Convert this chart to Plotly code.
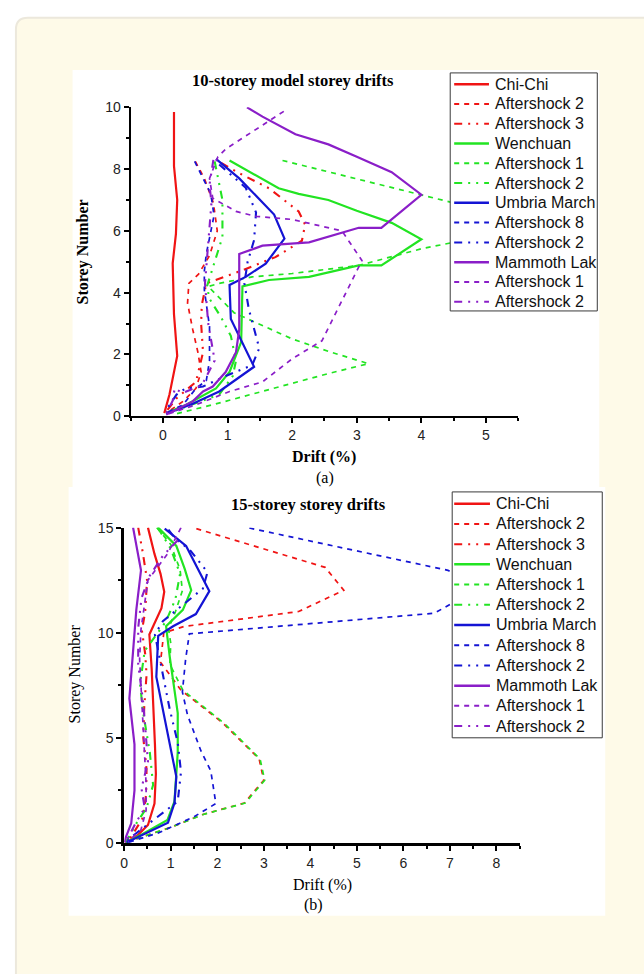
import plotly.graph_objects as go

W, H = 644, 974


def px(x):
    return x / W


def py(y):
    return 1 - y / H


# ---------------- data: panel (a) 10-storey ----------------
a_chichi_drift = [0.17, 0.17, 0.22, 0.20, 0.15, 0.17, 0.22, 0.10, 0.02]
a_chichi_storey = [9.85, 8.1, 7.0, 5.9, 4.95, 3.3, 1.95, 0.7, 0.1]
a_cc_as2_drift = [0.50, 0.64, 0.78, 0.84, 0.72, 0.55, 0.40, 0.38, 0.46, 0.54, 0.59, 0.51, 0.31, 0.05]
a_cc_as2_storey = [8.25, 7.7, 6.9, 6.0, 5.2, 4.6, 4.3, 3.66, 2.81, 2.07, 1.43, 0.9, 0.48, 0.1]
a_cc_as3_drift = [0.90, 1.15, 1.64, 2.10, 2.20, 2.15, 1.74, 1.20, 0.67, 0.60, 0.59, 0.62, 0.51, 0.21, 0.03]
a_cc_as3_storey = [8.2, 7.9, 7.38, 6.63, 6.2, 5.68, 5.15, 4.7, 4.3, 3.6, 3.0, 2.07, 1.11, 0.58, 0.1]
a_wen_drift = [1.03, 1.44, 1.79, 2.10, 2.56, 3.0, 3.54, 4.0, 3.38, 3.03, 2.26, 1.64, 1.23, 1.21, 1.13, 1.03, 0.82, 0.36, 0.05]
a_wen_storey = [8.28, 7.8, 7.38, 7.2, 7.0, 6.65, 6.26, 5.73, 4.88, 4.88, 4.51, 4.41, 4.2, 2.4, 1.96, 1.43, 0.9, 0.37, 0.1]
a_wen_as1_drift = [1.85, 4.0, 5.86, 4.0, 3.03, 2.0, 1.38, 0.87, 0.70, 1.10, 2.0, 2.56, 3.18, 2.56, 1.54, 0.77, 0.15]
a_wen_as1_storey = [8.28, 7.17, 6.2, 5.42, 4.88, 4.62, 4.51, 4.3, 4.2, 3.35, 2.5, 2.1, 1.7, 1.38, 0.8, 0.37, 0.05]
a_wen_as2_drift = [0.80, 0.92, 0.92, 0.80, 0.68, 0.72, 0.90, 1.05, 1.13, 1.08, 0.87, 0.15]
a_wen_as2_storey = [8.25, 7.0, 5.8, 5.0, 4.2, 3.8, 3.2, 2.6, 1.8, 1.3, 0.7, 0.15]
a_umb_drift = [0.82, 1.18, 1.72, 1.88, 1.59, 1.28, 1.03, 1.05, 1.41, 0.87, 0.46, 0.05]
a_umb_storey = [8.33, 7.7, 6.53, 5.75, 4.94, 4.51, 4.25, 3.15, 1.6, 0.8, 0.4, 0.08]
a_umb_as8_drift = [0.49, 0.62, 0.74, 0.79, 0.67, 0.64, 0.64, 0.72, 0.72, 0.67, 0.51, 0.31, 0.05]
a_umb_as8_storey = [8.25, 7.7, 7.2, 6.5, 5.25, 4.7, 4.09, 2.9, 1.8, 1.15, 0.9, 0.37, 0.1]
a_umb_as2_drift = [0.87, 1.28, 1.44, 1.41, 1.31, 1.26, 1.33, 1.49, 1.38, 0.97, 0.62, 0.35, 0.21, 0.05]
a_umb_as2_storey = [8.15, 7.4, 6.6, 5.7, 5.0, 4.3, 3.45, 2.2, 1.65, 1.3, 0.96, 0.9, 0.7, 0.2]
a_mam_drift = [1.30, 1.54, 2.05, 2.56, 3.0, 3.54, 4.0, 3.38, 3.03, 2.26, 1.54, 1.18, 1.18, 1.13, 0.97, 0.77, 0.62, 0.46, 0.05]
a_mam_storey = [10.0, 9.7, 9.13, 8.8, 8.4, 7.9, 7.17, 6.1, 6.1, 5.63, 5.52, 5.25, 2.8, 2.07, 1.43, 0.96, 0.8, 0.48, 0.05]
a_mam_as1_drift = [1.87, 1.33, 0.97, 0.85, 0.72, 0.77, 1.13, 1.44, 2.0, 2.77, 3.08, 2.46, 2.0, 1.54, 1.03, 0.51, 0.05]
a_mam_as1_storey = [9.87, 9.13, 8.65, 8.4, 7.7, 7.06, 6.63, 6.47, 6.37, 6.0, 5.04, 2.44, 1.86, 1.11, 0.8, 0.37, 0.05]
a_mam_as2_drift = [0.78, 0.72, 0.75, 0.70, 0.65, 0.70, 0.80, 0.60, 0.30, 0.18, 0.15, 0.05]
a_mam_as2_storey = [8.3, 7.5, 6.9, 5.5, 4.3, 3.0, 1.8, 1.0, 0.75, 0.9, 0.5, 0.1]

# ---------------- data: panel (b) 15-storey ----------------
b_chichi_drift = [0.51, 0.65, 0.78, 0.86, 0.80, 0.65, 0.54, 0.59, 0.63, 0.66, 0.68, 0.65, 0.51, 0.26, 0.04]
b_chichi_storey = [15.0, 13.75, 12.8, 11.95, 11.17, 10.47, 9.92, 8.28, 6.56, 4.69, 3.28, 1.88, 0.86, 0.31, 0.03]
b_cc_as2_drift = [1.55, 4.32, 4.72, 3.75, 1.29, 0.85, 0.78, 1.22, 2.12, 2.90, 3.0, 2.58, 1.69, 0.98, 0.12]
b_cc_as2_storey = [14.95, 13.11, 12.02, 11.01, 10.3, 10.0, 8.6, 7.27, 5.71, 4.0, 2.99, 1.90, 1.36, 0.73, 0.1]
b_cc_as3_drift = [0.30, 0.40, 0.49, 0.45, 0.38, 0.45, 0.48, 0.43, 0.41, 0.48, 0.47, 0.40, 0.15, 0.02]
b_cc_as3_storey = [15.0, 13.8, 12.5, 11.0, 10.1, 9.0, 8.0, 6.5, 5.0, 3.5, 2.3, 1.2, 0.3, 0.02]
b_wen_drift = [0.73, 1.12, 1.30, 1.44, 1.26, 0.90, 0.92, 0.98, 1.15, 1.15, 1.08, 0.93, 0.36, 0.03]
b_wen_storey = [15.0, 14.13, 13.04, 12.02, 11.09, 10.31, 9.92, 8.83, 6.18, 4.31, 1.98, 1.1, 0.39, 0.02]
b_wen_as1_drift = [0.70, 1.0, 1.2, 1.25, 1.1, 0.95, 1.0, 0.98, 1.26, 2.14, 2.92, 3.02, 2.60, 1.70, 0.98, 0.12]
b_wen_as1_storey = [15.0, 14.2, 13.0, 12.0, 11.0, 10.2, 9.5, 8.5, 7.27, 5.71, 4.0, 2.99, 1.90, 1.36, 0.73, 0.1]
b_wen_as2_drift = [0.72, 1.0, 1.2, 1.1, 0.9, 0.44, 0.34, 0.40, 0.55, 0.62, 0.48, 0.25, 0.04]
b_wen_as2_storey = [15.0, 14.0, 12.8, 11.6, 10.55, 9.14, 7.58, 6.3, 4.3, 2.76, 1.67, 0.9, 0.05]
b_umb_drift = [0.87, 1.33, 1.83, 1.54, 1.05, 0.73, 0.69, 1.12, 1.08, 0.94, 0.05]
b_umb_storey = [14.95, 14.13, 11.98, 10.89, 10.31, 9.85, 7.9, 3.15, 1.90, 0.97, 0.03]
b_umb_as8_drift = [2.69, 6.96, 7.6, 6.96, 6.67, 1.40, 1.32, 1.25, 1.36, 1.65, 1.86, 1.97, 1.50, 0.72, 0.08]
b_umb_as8_storey = [14.98, 12.97, 12.1, 11.32, 10.93, 9.95, 8.75, 7.19, 6.09, 4.38, 3.44, 1.88, 1.25, 0.47, 0.03]
b_umb_as2_drift = [0.95, 1.11, 1.40, 1.79, 1.69, 1.30, 0.83, 0.66, 0.76, 0.98, 1.15, 1.22, 1.15, 0.69, 0.23, 0.04]
b_umb_as2_storey = [14.9, 14.44, 13.97, 12.88, 12.1, 11.4, 10.55, 9.92, 8.83, 6.34, 4.78, 3.38, 1.98, 1.2, 0.42, 0.05]
b_mam_drift = [0.19, 0.36, 0.26, 0.19, 0.11, 0.22, 0.22, 0.15, 0.04, 0.01]
b_mam_storey = [15.0, 12.97, 11.1, 9.06, 6.88, 4.69, 2.5, 0.94, 0.31, 0.03]
b_mam_as1_drift = [1.22, 0.93, 0.51, 0.43, 0.36, 0.33, 0.36, 0.40, 0.43, 0.47, 0.47, 0.36, 0.08]
b_mam_as1_storey = [15.0, 13.75, 12.5, 11.25, 10.16, 8.75, 7.5, 5.94, 4.38, 2.81, 1.56, 0.63, 0.08]
b_mam_as2_drift = [1.15, 0.83, 0.55, 0.37, 0.30, 0.30, 0.41, 0.51, 0.37, 0.44, 0.23, 0.04]
b_mam_as2_storey = [14.4, 13.66, 12.72, 11.64, 10.23, 8.5, 6.65, 3.85, 2.6, 1.67, 0.89, 0.05]

series_names = ["Chi-Chi", "Aftershock 2", "Aftershock 3", "Wenchuan", "Aftershock 1",
                "Aftershock 2", "Umbria March", "Aftershock 8", "Aftershock 2",
                "Mammoth Lak", "Aftershock 1", "Aftershock 2"]

a_series = [
    (a_chichi_drift, a_chichi_storey), (a_cc_as2_drift, a_cc_as2_storey), (a_cc_as3_drift, a_cc_as3_storey),
    (a_wen_drift, a_wen_storey), (a_wen_as1_drift, a_wen_as1_storey), (a_wen_as2_drift, a_wen_as2_storey),
    (a_umb_drift, a_umb_storey), (a_umb_as8_drift, a_umb_as8_storey), (a_umb_as2_drift, a_umb_as2_storey),
    (a_mam_drift, a_mam_storey), (a_mam_as1_drift, a_mam_as1_storey), (a_mam_as2_drift, a_mam_as2_storey),
]
b_series = [
    (b_chichi_drift, b_chichi_storey), (b_cc_as2_drift, b_cc_as2_storey), (b_cc_as3_drift, b_cc_as3_storey),
    (b_wen_drift, b_wen_storey), (b_wen_as1_drift, b_wen_as1_storey), (b_wen_as2_drift, b_wen_as2_storey),
    (b_umb_drift, b_umb_storey), (b_umb_as8_drift, b_umb_as8_storey), (b_umb_as2_drift, b_umb_as2_storey),
    (b_mam_drift, b_mam_storey), (b_mam_as1_drift, b_mam_as1_storey), (b_mam_as2_drift, b_mam_as2_storey),
]

# ---------------- styles ----------------
RED, GREEN, BLUE, PURPLE = "#F01414", "#22E422", "#1414D4", "#8A1EC8"
DASH = "5px,5px"
DDOT = "8px,6px,2px,6px,2px,6px"
colors = [RED] * 3 + [GREEN] * 3 + [BLUE] * 3 + [PURPLE] * 3
dashes = ["solid", DASH, DDOT] * 4
widths = [2.2, 1.7, 2.1] * 4

SERIF = "Liberation Serif, Times New Roman, serif"
SANS = "Liberation Sans, Arial, sans-serif"

fig = go.Figure()

for (xs, ys), name, c, d, w in zip(a_series, series_names, colors, dashes, widths):
    fig.add_trace(go.Scatter(x=xs, y=ys, mode="lines", name=name, showlegend=False,
                             line=dict(color=c, dash=d, width=w), xaxis="x", yaxis="y"))
for (xs, ys), name, c, d, w in zip(b_series, series_names, colors, dashes, widths):
    fig.add_trace(go.Scatter(x=xs, y=ys, mode="lines", name=name, showlegend=False,
                             line=dict(color=c, dash=d, width=w), xaxis="x2", yaxis="y2"))


def axis(domain, rng, dtick, minor_dtick, anchor, lw, fs):
    return dict(domain=domain, range=rng, anchor=anchor, tickmode="linear", tick0=0, dtick=dtick,
                ticks="outside", ticklen=5, tickwidth=1.5, tickcolor="black",
                showline=True, linecolor="black", linewidth=lw, showgrid=False, zeroline=False,
                tickfont=dict(family=SANS, size=fs, color="#222"),
                minor=dict(tickmode="linear", tick0=0, dtick=minor_dtick, ticks="outside",
                           ticklen=3, tickwidth=1.5, tickcolor="black"),
                fixedrange=True)


shapes = [
    # card background
    dict(type="path", xref="paper", yref="paper", layer="below",
         path=(f"M {px(12)},{py(990)} L {px(12)},{py(22)} Q {px(12)},{py(10)} {px(24)},{py(10)} "
               f"L {px(660)},{py(10)} L {px(660)},{py(990)} Z"),
         fillcolor="#FEFAE8", line=dict(color="#ECE8DC", width=2)),
    dict(type="rect", xref="paper", yref="paper", layer="below",
         x0=px(69), x1=px(599), y0=py(487), y1=py(63), fillcolor="white", line=dict(width=0)),
    dict(type="rect", xref="paper", yref="paper", layer="below",
         x0=px(65), x1=px(605), y0=py(923), y1=py(487), fillcolor="white", line=dict(width=0)),
]

annotations = []


def add_text(x, y, text, size, family=SERIF, angle=0, xanchor="center", color="black"):
    annotations.append(dict(x=px(x), y=py(y), xref="paper", yref="paper", text=text, showarrow=False,
                            xanchor=xanchor, yanchor="middle", textangle=angle,
                            font=dict(family=family, size=size, color=color)))


def add_legend(box, row0, step, lx0, lx1, tx):
    shapes.append(dict(type="rect", xref="paper", yref="paper", layer="above",
                       x0=px(box[0]), x1=px(box[2]), y0=py(box[3]), y1=py(box[1]),
                       fillcolor="white", line=dict(color="#3A3A3A", width=1)))
    for i, (name, c, d) in enumerate(zip(series_names, colors, dashes)):
        yc = row0 + i * step
        shapes.append(dict(type="line", xref="paper", yref="paper", layer="above",
                           x0=px(lx0), x1=px(lx1), y0=py(yc), y1=py(yc),
                           line=dict(color=c, dash=d, width=2.5 if d == "solid" else 2)))
        add_text(tx, yc, name, 16, family=SANS, xanchor="left", color="#111")


# panel (a) texts
add_text(290.5, 73.5, "<b>10-storey model storey drifts</b>", 16.5)
add_text(79, 248, "<b>Storey Number</b>", 16, angle=-90)
add_text(322.5, 457, "<b>Drift (%)</b>", 16)
add_text(323, 478, "(a)", 16)
add_legend((449, 66, 597, 308), 77.5, 20.1, 453, 488, 492)

# panel (b) texts
add_text(306.5, 504.5, "<b>15-storey storey drifts</b>", 16.5)
add_text(71.5, 677.5, "Storey Number", 16, angle=-90)
add_text(320, 891.5, "Drift (%)", 16)
add_text(311, 911.5, "(b)", 16)
add_legend((451, 492, 602, 742), 504, 20.55, 453, 489, 493)

fig.update_layout(
    width=W, height=H, margin=dict(l=0, r=0, t=0, b=0),
    paper_bgcolor="white", plot_bgcolor="rgba(0,0,0,0)",
    showlegend=False,
    xaxis=axis([px(127.5), px(517.5)], [-0.5, 5.5], 1, 0.5, "y", 2, 14),
    yaxis=axis([py(415), py(101)], [0, 10], 2, 1, "x", 2, 14),
    xaxis2=axis([px(121), px(518.8)], [0, 8.5], 1, 0.5, "y2", 2.5, 14),
    yaxis2=axis([py(849), py(528.3)], [0, 15], 5, 2.5, "x2", 3, 14),
    shapes=shapes,
    annotations=annotations,
)

fig.write_html("out.html")
